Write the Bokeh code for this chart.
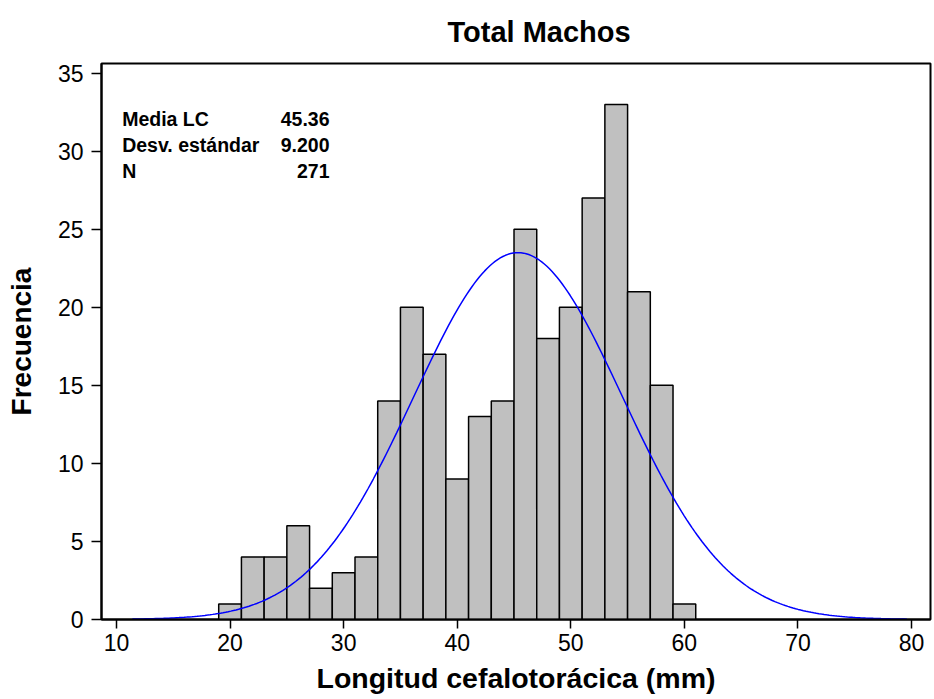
import numpy as np
from bokeh.plotting import figure
from bokeh.models import ColumnDataSource, Label, FixedTicker
from bokeh.embed import file_html
from bokeh.resources import INLINE

# ---- data ----
bin_left = [19, 21, 23, 25, 27, 29, 31, 33, 35, 37, 39, 41, 43, 45, 47, 49, 51, 53, 55, 57, 59]
counts = [1, 4, 4, 6, 2, 3, 4, 14, 20, 17, 9, 13, 14, 25, 18, 20, 27, 33, 21, 15, 1]
bin_width = 2
stat_names = ["Media LC", "Desv. estándar", "N"]
stat_values = ["45.36", "9.200", "271"]
mean_lc = 45.36
sd_lc = 9.200
n_total = 271
curve_start, curve_end = 11.4, 79.6
x_ticks = [10, 20, 30, 40, 50, 60, 70, 80]
y_ticks = [0, 5, 10, 15, 20, 25, 30, 35]

# fitted normal curve (scaled to histogram counts) from the stated statistics
cx = np.linspace(curve_start, curve_end, 300)
cy = n_total * bin_width / (sd_lc * np.sqrt(2 * np.pi)) * np.exp(-0.5 * ((cx - mean_lc) / sd_lc) ** 2)

bars = ColumnDataSource(dict(
    left=bin_left,
    right=[b + bin_width for b in bin_left],
    top=counts,
    bottom=[0] * len(counts),
))

p = figure(width=934, height=699, x_range=(8.68, 81.67), y_range=(0, 35.62),
           output_backend="svg", toolbar_location=None, title="Total Machos",
           min_border_left=101, min_border_right=4, min_border_top=63, min_border_bottom=80)

p.title.align = "left"
p.title.offset = 346
p.title.text_font = "Liberation Sans"
p.title.text_font_style = "bold"
p.title.text_font_size = "29px"
p.title.text_color = "black"
p.title.vertical_align = "top"
p.title.standoff = 28

p.quad(left="left", right="right", top="top", bottom="bottom", source=bars,
       fill_color="#C0C0C0", line_color="black", line_width=1.5)
p.line(cx, cy, line_color="#0000FF", line_width=1.5)

p.xgrid.visible = False
p.ygrid.visible = False
p.outline_line_color = "black"
p.outline_line_width = 2
p.background_fill_color = "white"
p.border_fill_color = "white"

for ax in (p.xaxis[0], p.yaxis[0]):
    ax.axis_line_color = "black"
    ax.axis_line_width = 2
    ax.major_tick_line_color = "black"
    ax.major_tick_line_width = 1.5
    ax.major_tick_in = 0
    ax.minor_tick_line_color = None
    ax.major_label_text_font = "Liberation Sans"
    ax.major_label_text_font_size = "23px"
    ax.major_label_text_color = "black"
    ax.axis_label_text_font = "Liberation Sans"
    ax.axis_label_text_font_style = "bold"
    ax.axis_label_text_font_size = "28.5px"
    ax.axis_label_text_color = "black"

p.xaxis[0].ticker = FixedTicker(ticks=x_ticks)
p.yaxis[0].ticker = FixedTicker(ticks=y_ticks)
p.xaxis[0].major_tick_out = 9
p.yaxis[0].major_tick_out = 10
p.xaxis[0].major_label_standoff = 5
p.yaxis[0].major_label_standoff = 8
p.xaxis[0].axis_label = "Longitud cefalotorácica (mm)"
p.yaxis[0].axis_label = "Frecuencia"
p.yaxis[0].axis_label_text_font_size = "28px"
p.xaxis[0].axis_label_standoff = 8
p.yaxis[0].axis_label_standoff = 18

# statistics box
stat_y = [32.09, 30.43, 28.76]
for name, val, yy in zip(stat_names, stat_values, stat_y):
    p.add_layout(Label(x=10.5, y=yy, text=name, text_align="left", text_baseline="alphabetic",
                       text_font="Liberation Sans", text_font_style="bold",
                       text_font_size="19.5px", text_color="black"))
    p.add_layout(Label(x=28.76, y=yy, text=val, text_align="right", text_baseline="alphabetic",
                       text_font="Liberation Sans", text_font_style="bold",
                       text_font_size="19.5px", text_color="black"))

open("out.html", "w").write(file_html(p, INLINE))
